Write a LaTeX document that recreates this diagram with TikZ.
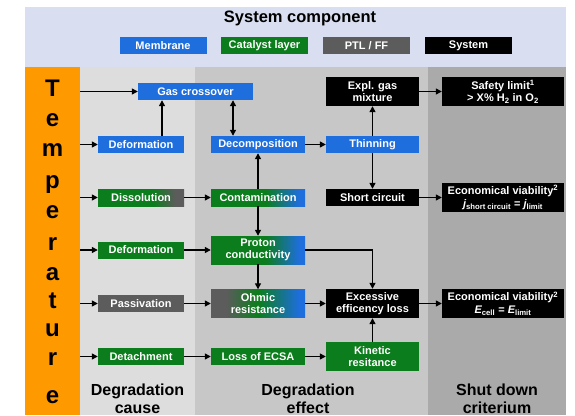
\documentclass[tikz,border=0pt]{standalone}
\usepackage{fontspec}
\setmainfont{Liberation Sans}
\usetikzlibrary{arrows.meta,calc}
\definecolor{memblue}{RGB}{30,110,222}
\definecolor{catgreen}{RGB}{12,125,28}
\definecolor{ptlgray}{RGB}{92,92,92}
\definecolor{orng}{RGB}{255,153,0}
\definecolor{hdrbg}{RGB}{217,223,240}
\definecolor{causebg}{RGB}{221,221,221}
\definecolor{effbg}{RGB}{199,199,199}
\definecolor{shutbg}{RGB}{170,170,170}
\pgfdeclarehorizontalshading{gdiss}{100bp}{color(0bp)=(catgreen); color(25bp)=(catgreen); color(57bp)=(catgreen); color(70bp)=(ptlgray); color(100bp)=(ptlgray)}
\pgfdeclarehorizontalshading{gcont}{100bp}{color(0bp)=(catgreen); color(25bp)=(catgreen); color(54bp)=(catgreen); color(72bp)=(memblue); color(100bp)=(memblue)}
\pgfdeclarehorizontalshading{gohm}{100bp}{color(0bp)=(ptlgray); color(25bp)=(ptlgray); color(33bp)=(ptlgray); color(50bp)=(catgreen); color(72bp)=(memblue); color(100bp)=(memblue)}
\tikzset{
 box/.style={inner sep=0pt, text=white, font=\fontsize{11}{12.5}\selectfont\bfseries, align=center, minimum height=17pt},
 mem/.style={box, fill=memblue},
 cat/.style={box, fill=catgreen},
 ptl/.style={box, fill=ptlgray},
 sys/.style={box, fill=black},
 wA/.style={minimum width=86pt},
 wB/.style={minimum width=94pt},
 wC/.style={minimum width=93pt},
 wD/.style={minimum width=122pt},
 wL/.style={minimum width=87pt},
 tall/.style={minimum height=29pt},
 arr/.style={-{Triangle[length=6pt,width=6pt]}, line width=1.3pt},
 darr/.style={{Triangle[length=6pt,width=6pt]}-{Triangle[length=6pt,width=6pt]}, line width=1.3pt},
 colhead/.style={font=\fontsize{16}{18}\selectfont\bfseries, align=center, text=black, inner sep=0pt},
 letter/.style={font=\fontsize{24}{24}\selectfont\bfseries, anchor=base, inner sep=0pt},
}
\begin{document}
\begin{tikzpicture}[x=1pt,y=-1pt]
\useasboundingbox (0,0) rectangle (575,415);
% backgrounds
\fill[hdrbg] (25,7) rectangle (566,67);
\fill[causebg] (80,67) rectangle (195,415);
\fill[effbg] (195,67) rectangle (428,415);
\fill[shutbg] (428,67) rectangle (566,415);
\node[fill=orng, minimum width=55pt, minimum height=348pt, inner sep=0pt, anchor=north west] (temp) at (25,67) {};
% temperature letters
\foreach \ch/\yy [count=\i] in {T/96.5, e/126.5, m/156.5, p/188.5, e/218.5, r/250.5, a/280.5, t/308.5, u/336.5, r/365, e/403}
  \node[letter] (tl\i) at (52.5,\yy) {\ch};
% header
\node[font=\fontsize{16.5}{18}\selectfont\bfseries, inner sep=0pt] (title) at (300,18) {System component};
\node[mem, wL] (lmem) at (163,45.5) {Membrane};
\node[cat, wL] (lcat) at (264.5,45.5) {Catalyst layer};
\node[ptl, wL] (lptl) at (366.5,45.5) {PTL / FF};
\node[sys, wL] (lsys) at (468.5,45.5) {System};
% column headings
\node[colhead] (hcause) at (137.5,399) {Degradation\\cause};
\node[colhead] (heff) at (308,399) {Degradation\\effect};
\node[colhead] (hshut) at (497,399) {Shut down\\criterium};
% nodes
\node[mem, minimum width=115pt] (gas) at (195.5,91.5) {Gas crossover};
\node[sys, wC, tall] (expl) at (372.5,91.5) {Expl. gas\\mixture};
\node[sys, wD, tall] (safe) at (503,91.5) {Safety limit\textsuperscript{1}\\{}> X\% H\textsubscript{2} in O\textsubscript{2}};
\node[mem, wA] (def1) at (141,144.5) {Deformation};
\node[mem, wB] (dec) at (258,144.5) {Decomposition};
\node[mem, wC] (thin) at (372.5,144.5) {Thinning};
\node[box, wA, shade, shading=gdiss] (diss) at (141,197.5) {Dissolution};
\node[box, wB, shade, shading=gcont] (cont) at (258,197.5) {Contamination};
\node[sys, wC] (short) at (372.5,197.5) {Short circuit};
\node[sys, wD, tall] (econ1) at (503,197.5) {Economical viability\textsuperscript{2}\\{\itshape j}\textsubscript{short circuit} = {\itshape j}\textsubscript{limit}};
\node[cat, wA] (def2) at (141,250) {Deformation};
\node[box, wB, minimum height=28pt, shade, shading=gcont] (prot) at (258,250) {Proton\\conductivity};
\node[ptl, wA] (pass) at (141,303.5) {Passivation};
\node[box, wB, minimum height=28pt, shade, shading=gohm] (ohm) at (258,303.5) {Ohmic\\resistance};
\node[sys, wC, tall] (exc) at (372.5,303.5) {Excessive\\efficency loss};
\node[sys, wD, tall] (econ2) at (503,303.5) {Economical viability\textsuperscript{2}\\{\itshape E}\textsubscript{cell} = {\itshape E}\textsubscript{limit}};
\node[cat, wA] (det) at (141,356.5) {Detachment};
\node[cat, wB] (loss) at (258,356.5) {Loss of ECSA};
\node[cat, wC, tall] (kin) at (372.5,356.5) {Kinetic\\resitance};
% arrows from temperature
\foreach \n in {gas,def1,diss,def2,pass,det}
  \draw[arr] (temp.east |- \n.west) -- (\n.west);
% other connectors
\draw[arr] ([xshift=21pt]def1.north) -- ([xshift=21pt]def1.north |- gas.south);
\draw[darr] ([xshift=-25pt]dec.north) -- ([xshift=-25pt]dec.north |- gas.south);
\draw[arr] (dec.east) -- (thin.west);
\draw[arr] (thin.north) -- (expl.south);
\draw[arr] (thin.south) -- (short.north);
\draw[arr] (expl.east) -- (safe.west);
\draw[arr] (short.east) -- (econ1.west);
\draw[arr] (diss.east) -- (cont.west);
\draw[arr] (cont.north) -- (dec.south);
\draw[arr] (cont.south) -- (prot.north);
\draw[arr] (def2.east) -- (prot.west);
\draw[arr] (prot.south) -- (ohm.north);
\draw[arr] (prot.east) -| (exc.north);
\draw[arr] (pass.east) -- (ohm.west);
\draw[arr] (ohm.east) -- (exc.west);
\draw[arr] (exc.east) -- (econ2.west);
\draw[arr] (det.east) -- (loss.west);
\draw[arr] (loss.east) -- (kin.west);
\draw[arr] (kin.north) -- (exc.south);
\end{tikzpicture}
\end{document}
